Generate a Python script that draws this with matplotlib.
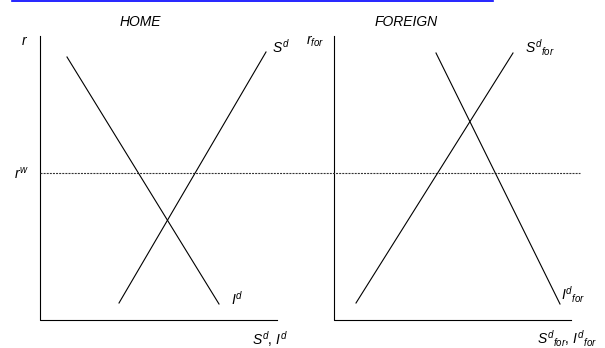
import matplotlib.pyplot as plt

plt.rcParams['font.family'] = ['Liberation Sans', 'DejaVu Sans']
plt.rcParams['mathtext.fontset'] = 'custom'
plt.rcParams['mathtext.it'] = 'Liberation Sans:italic'
plt.rcParams['mathtext.rm'] = 'Liberation Sans:italic'

# panel frames (pixel-space diagram coordinates)
home_axis_x = [40, 40, 277]
home_axis_y = [36, 320, 320]
for_axis_x = [334, 334, 571]
for_axis_y = [36, 320, 320]

# world interest rate line
rw_x = [40, 580]
rw_y = [173, 173]

# curves
home_sd_x = [119, 266]
home_sd_y = [303, 52]
home_id_x = [67, 219]
home_id_y = [57, 304]
for_sd_x = [356, 513]
for_sd_y = [303, 53]
for_id_x = [436, 560]
for_id_y = [53, 304]

# top rule
rule_x = [12, 493]
rule_y = [0.8, 0.8]

fig = plt.figure(figsize=(6.05, 3.48), dpi=100)
ax = fig.add_axes([0, 0, 1, 1])
ax.set_xlim(0, 605)
ax.set_ylim(348, 0)
ax.axis('off')

lw = 0.8
ax.plot(rule_x, rule_y, color='#0000ff', lw=1.2)
ax.plot(home_axis_x, home_axis_y, color='black', lw=lw)
ax.plot(for_axis_x, for_axis_y, color='black', lw=lw)
ax.plot(rw_x, rw_y, color='#333333', lw=0.8, dashes=(1.8, 1.0))
for xs, ys in [(home_sd_x, home_sd_y), (home_id_x, home_id_y),
               (for_sd_x, for_sd_y), (for_id_x, for_id_y)]:
    ax.plot(xs, ys, color='black', lw=lw)

fs = 10
ax.text(140, 22, 'HOME', fontsize=fs, style='italic', ha='center', va='center')
ax.text(406, 22, 'FOREIGN', fontsize=fs, style='italic', ha='center', va='center')

ax.text(25, 41, '$r$', fontsize=fs, ha='center', va='center')
ax.text(315, 41, '$r_{for}$', fontsize=fs, ha='center', va='center')
ax.text(21, 174, '$r^{w}$', fontsize=fs, ha='center', va='center')
ax.text(281, 47, '$S^{d}$', fontsize=fs, ha='center', va='center')
ax.text(237, 299, '$I^{d}$', fontsize=fs, ha='center', va='center')
ax.text(270, 339, '$S^{d}$, $I^{d}$', fontsize=fs, ha='center', va='center')
ax.text(540, 48, '$S^{d}{}_{for}$', fontsize=fs, ha='center', va='center')
ax.text(573, 295, '$I^{d}{}_{for}$', fontsize=fs, ha='center', va='center')
ax.text(567, 339, '$S^{d}{}_{for}$, $I^{d}{}_{for}$', fontsize=fs, ha='center', va='center')

fig.savefig('out.png', dpi=100)
